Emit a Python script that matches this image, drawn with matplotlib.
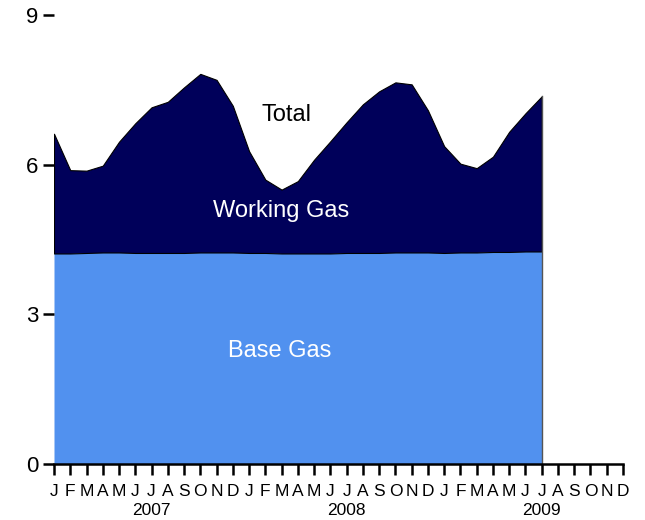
import numpy as np
import matplotlib
matplotlib.use("Agg")
import matplotlib.pyplot as plt
import matplotlib.transforms as mtransforms

plt.rcParams['font.family'] = ['Liberation Sans', 'DejaVu Sans']

# Monthly values, Jan 2007 - Jul 2009
total = [6.62, 5.89, 5.88, 5.98, 6.46, 6.83, 7.15, 7.26, 7.55, 7.82, 7.70, 7.18,
         6.27, 5.70, 5.50, 5.67, 6.10, 6.47, 6.85, 7.21, 7.47, 7.65, 7.61, 7.09,
         6.37, 6.02, 5.93, 6.16, 6.66, 7.03, 7.37]
base = [4.22, 4.22, 4.23, 4.24, 4.24, 4.23, 4.23, 4.23, 4.23, 4.24, 4.24, 4.24,
        4.23, 4.23, 4.22, 4.22, 4.22, 4.22, 4.23, 4.23, 4.23, 4.24, 4.24, 4.24,
        4.23, 4.24, 4.24, 4.25, 4.25, 4.26, 4.26]
month_letters = list("JFMAMJJASOND") * 3
years = ["2007", "2008", "2009"]

x = np.arange(len(total))

fig = plt.figure(figsize=(6.45, 5.2), dpi=100)
ax = fig.add_axes([54/645, 1 - 464/520, (623 - 54)/645, (464 - 15)/520])

ax.fill_between(x, 0, base, color='#5191ef', linewidth=0)
ax.fill_between(x, base, total, color='#00005a', edgecolor='black', linewidth=0.8)
ax.plot([x[-1], x[-1]], [0, total[-1]], color='#555555', lw=1)

ax.set_xlim(0, 35)
ax.set_ylim(0, 9)

ax.text(14.3, 7.0, "Total", color='black', fontsize=17, ha='center', va='center')
ax.text(14.0, 5.07, "Working Gas", color='white', fontsize=17, ha='center', va='center')
ax.text(13.9, 2.26, "Base Gas", color='white', fontsize=17, ha='center', va='center')

for s in ['top', 'right', 'left']:
    ax.spines[s].set_visible(False)
ax.spines['bottom'].set_linewidth(1.8)

ax.set_yticks([0, 3, 6, 9])
ax.set_yticklabels(['0', '3', '6', '9'], fontsize=16)
ax.tick_params(axis='y', length=8, width=1.8, pad=3)

ax.set_xticks(np.arange(36))
ax.set_xticklabels(month_letters, fontsize=12.5)
ax.tick_params(axis='x', length=8, width=1.8, pad=6.5)

trans = mtransforms.blended_transform_factory(ax.transData, ax.transAxes)
for i, yr in enumerate(years):
    ax.text(6 + 12 * i, -0.104, yr, transform=trans, fontsize=12.5,
            ha='center', va='center')

fig.savefig('out.png', dpi=100)
